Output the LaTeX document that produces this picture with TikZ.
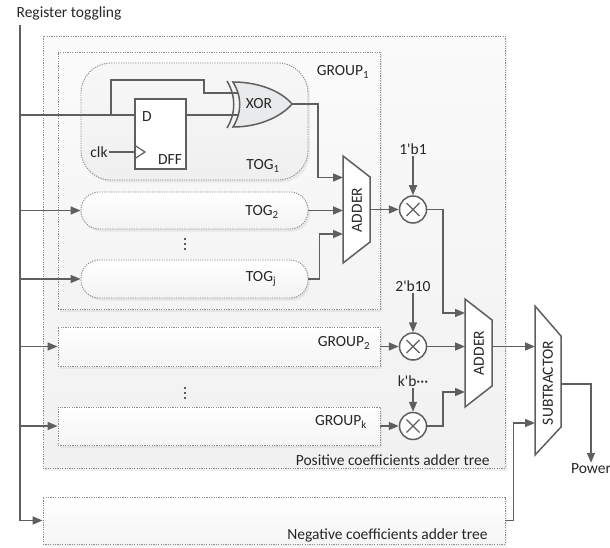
\documentclass[tikz,border=0pt]{standalone}
\usepackage{fontspec}
\setmainfont{Carlito}
\usepackage{tikz}
\usetikzlibrary{arrows.meta,shadows}

\definecolor{wirecol}{HTML}{5F5F5F}
\definecolor{dotcol}{HTML}{8A8A8A}
\definecolor{txtcol}{HTML}{262626}
\definecolor{gatecol}{HTML}{E9EAEB}

\begin{document}
\begin{tikzpicture}[x=1pt,y=-1pt,font=\fontsize{15.5}{18}\selectfont,text=txtcol]

\tikzset{wire/.style = {draw=wirecol,line width=1.5pt}}
\tikzset{edge/.style = {wire,-{Triangle[length=10pt,width=8pt]}}}
\tikzset{dotbox/.style = {shape=rectangle,draw=dotcol,line width=0.9pt,dash pattern=on 1.2pt off 1.2pt,inner sep=0pt,
  drop shadow={opacity=0.12,shadow xshift=2pt,shadow yshift=-2.5pt}}}
\tikzset{togbox/.style = {dotbox,rounded corners=18pt,top color=white,bottom color=gray!9}}
\tikzset{mult/.style = {shape=circle,wire,fill=white,minimum size=27pt,inner sep=0pt,
  path picture={\draw[wire,line width=1.2pt] ([shift={(-6.5,-6.5)}]path picture bounding box.center) -- ++(13,13)
                ([shift={(-6.5,6.5)}]path picture bounding box.center) -- ++(13,-13);}}}
\tikzset{vdot/.style = {shape=circle,fill=txtcol,inner sep=0pt,minimum size=2.4pt}}

\useasboundingbox (0,0) rectangle (610,548);

% boxes
\node[dotbox,top color=gray!4,bottom color=gray!11,minimum width=462pt,minimum height=432pt] (pos) at (274,252) {};
\node[dotbox,top color=white,bottom color=gray!8,minimum width=462pt,minimum height=47pt] (neg) at (274,520.5) {};
\node[dotbox,top color=gray!3,bottom color=gray!9,minimum width=322pt,minimum height=257pt] (grp1) at (219,180.5) {};
\node[dotbox,top color=white,bottom color=gray!8,minimum width=322pt,minimum height=39pt] (grp2) at (219,346.5) {};
\node[dotbox,top color=white,bottom color=gray!8,minimum width=322pt,minimum height=38pt] (grpk) at (219,426) {};
\node[togbox,rounded corners=30pt,top color=gray!6,bottom color=gray!12,minimum width=227pt,minimum height=117pt] (tog1) at (194.5,121.5) {};
\node[togbox,minimum width=227pt,minimum height=37pt] (tog2) at (194.5,210.5) {};
\node[togbox,minimum width=227pt,minimum height=38pt] (togj) at (194.5,279) {};

% labels
\node (reg) at (69,13) {Register toggling};
\node[anchor=east] (poslbl) at (493,460) {Positive coefficients adder tree};
\node[anchor=east] (neglbl) at (491,535) {Negative coefficients adder tree};
\node (grp1lbl) at (343,72) {GROUP\textsubscript{1}};
\node (grp2lbl) at (344,343) {GROUP\textsubscript{2}};
\node (grpklbl) at (341,422) {GROUP\textsubscript{k}};
\node (tog1lbl) at (263,166) {TOG\textsubscript{1}};
\node (tog2lbl) at (262,212) {TOG\textsubscript{2}};
\node (togjlbl) at (261,279) {TOG\textsubscript{j}};
\foreach \y in {239,244,249} \node[vdot] at (185,\y) {};
\foreach \y in {388,393,398} \node[vdot] at (185,\y) {};

% flip-flop
\node[shape=rectangle,wire,fill=white,minimum width=51pt,minimum height=70pt] (dff) at (160.5,134) {};
\node (dlbl) at (147,117) {D};
\node (dfflbl) at (170,160) {DFF};
\node[inner sep=1.5pt] (clk) at (99,152) {clk};
\draw[wire,line width=1.2pt] (135,145.5) -- (145,152) -- (135,158.5);

% xor gate
\coordinate (xa) at (240,93);
\coordinate (xb) at (240,115);
\coordinate (xo) at (292,104);
\coordinate (tap) at (111,115);
\draw[wire] (tap) |- (204,80) |- (xa);
\draw[wire] (dff.east |- xb) -- (xb);
\draw[wire,fill=gatecol] (233,82) .. controls (260,82) and (282,92) .. (292,104)
  .. controls (282,116) and (260,127) .. (233,127)
  .. controls (242,112) and (242,97) .. (233,82) -- cycle;
\draw[wire] (227,128) .. controls (236,113) and (236,96) .. (227,81);
\node (xorlbl) at (259,104) {XOR};

% adders
\draw[wire,fill=white] (343,156) -- (370,177) -- (370,242) -- (343,263) -- cycle;
\node[rotate=90] (add1lbl) at (357,210) {ADDER};
\coordinate (a1in1) at (343,177.5);
\coordinate (a1in2) at (343,210.5);
\coordinate (a1in3) at (343,234);
\coordinate (a1out) at (370,209.5);
\draw[wire,fill=white] (465,299) -- (492,320) -- (492,386) -- (465,407) -- cycle;
\node[rotate=90] (add2lbl) at (479,353) {ADDER};
\coordinate (a2in1) at (465,313);
\coordinate (a2in2) at (465,346.5);
\coordinate (a2in3) at (465,392);
\coordinate (a2out) at (492,346.5);
\draw[wire,fill=white] (535,306) -- (561,336) -- (561,427) -- (535,455) -- cycle;
\node[rotate=90] (sublbl) at (548,383) {SUBTRACTOR};
\coordinate (sin1) at (535,346.5);
\coordinate (sin2) at (535,423);
\coordinate (sout) at (561,384);
\node[inner sep=1pt] (power) at (591,469) {Power};

% multipliers
\node[mult] (m1) at (413,209.5) {};
\node[mult] (m2) at (413,346.5) {};
\node[mult] (mk) at (413,426) {};
\node[inner sep=1.5pt] (c1) at (413,149) {1\textquotesingle b1};
\node[inner sep=1.5pt] (c2) at (413,286) {2\textquotesingle b10};
\node[inner sep=1.5pt] (ck) at (413,381) {k\textquotesingle b···};

%edges
\coordinate (bustop) at (20,25);
\draw[wire] (bustop) -- (bustop |- neg.west);
\draw[wire] (bustop |- tap) -- (dff.west |- tap);
\draw[wire] (clk) -- (dff.west |- clk);
\draw[edge] (bustop |- tog2.west) -- (tog2.west);
\draw[edge] (bustop |- togj.west) -- (togj.west);
\draw[edge] (bustop |- grp2.west) -- (grp2.west);
\draw[edge] (bustop |- grpk.west) -- (grpk.west);
\draw[edge] (bustop |- neg.west) -- (neg.west);
\draw[edge] (xo) -- ++(26,0) |- (a1in1);
\draw[edge] (tog2.east) -- (a1in2);
\draw[edge] (togj.east) -- ++(11,0) |- (a1in3);
\draw[edge] (a1out) -- (m1);
\draw[edge] (c1) -- (m1);
\draw[edge] (c2) -- (m2);
\draw[edge] (ck) -- (mk);
\draw[edge] (grp2.east) -- (m2);
\draw[edge] (grpk.east) -- (mk);
\draw[edge] (m1.east) -- ++(15.5,0) |- (a2in1);
\draw[edge] (m2) -- (a2in2);
\draw[edge] (mk.east) -- ++(15.5,0) |- (a2in3);
\draw[edge] (a2out) -- (sin1);
\draw[edge] (neg.east) -- ++(8,0) |- (sin2);
\draw[edge] (sout) -| (power.north);
\end{tikzpicture}
\end{document}
